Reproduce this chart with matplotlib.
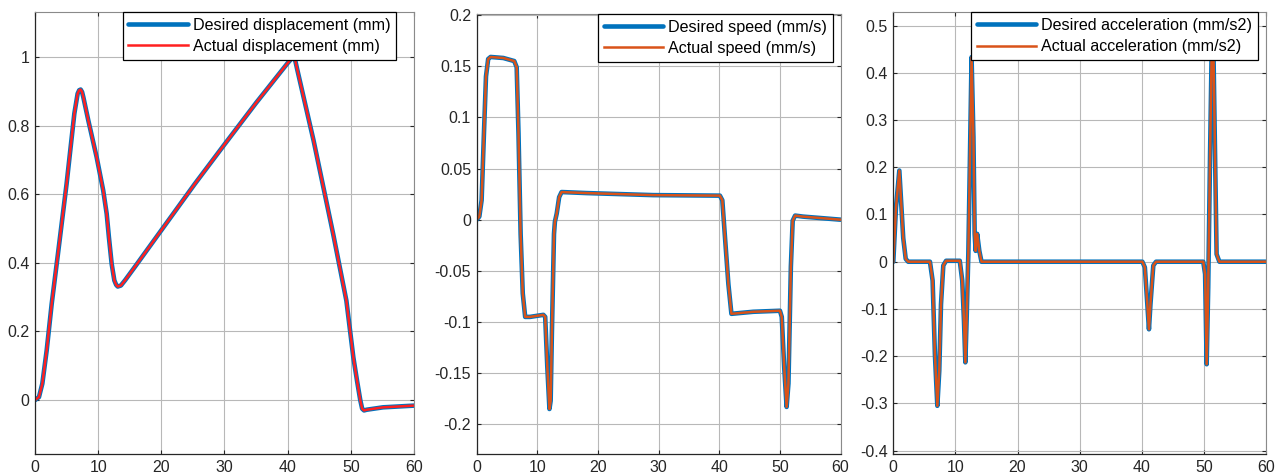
import numpy as np
import matplotlib
matplotlib.use("Agg")
import matplotlib.pyplot as plt

plt.rcParams["font.family"] = ["Liberation Sans", "DejaVu Sans"]
plt.rcParams["axes.unicode_minus"] = False

# displacement (mm) vs time
t_disp = [0, 0.63, 1.16, 1.85, 2.64, 3.7, 5.0, 6.23, 6.75, 7.0, 7.23, 7.45,
          7.65, 8.44, 9.76, 10.8, 11.35, 11.7, 12.14, 12.56, 12.85, 13.1,
          13.6, 14.25, 15.8, 20.0, 25.3, 30.0, 35.0, 40.0, 40.6, 40.9, 41.2,
          41.5, 44.1, 47.2, 49.3, 49.9, 50.4, 51.0, 51.5, 51.8, 52.1, 52.5,
          55.1, 60.0]
y_disp = [0, 0.009, 0.048, 0.145, 0.28, 0.436, 0.63, 0.835, 0.893, 0.903,
          0.905, 0.898, 0.883, 0.815, 0.708, 0.611, 0.543, 0.475, 0.397,
          0.349, 0.336, 0.331, 0.334, 0.349, 0.388, 0.495, 0.63, 0.745,
          0.866, 0.982, 0.995, 0.998, 0.99, 0.965, 0.757, 0.485, 0.29, 0.2,
          0.125, 0.055, 0.0, -0.025, -0.03, -0.028, -0.021, -0.016]

# speed (mm/s)
t_speed = [0, 0.44, 0.82, 1.2, 1.54, 1.9, 2.3, 4.4, 6.2, 6.6, 6.9, 7.25, 7.6,
           8.0, 8.8, 11.0, 11.3, 11.65, 12.0, 12.2, 12.4, 12.75, 12.9, 13.2,
           13.6, 14.0, 18.1, 29.1, 40.1, 40.5, 40.9, 41.5, 42.0, 45.6, 50.0,
           50.3, 50.7, 51.1, 51.4, 51.8, 52.1, 52.5, 53.8, 60.0]
y_speed = [0, 0.003, 0.019, 0.084, 0.14, 0.157, 0.159, 0.158, 0.155, 0.149,
           0.084, -0.014, -0.072, -0.095, -0.095, -0.093, -0.095, -0.144,
           -0.185, -0.177, -0.112, -0.014, -0.002, 0.006, 0.022, 0.027,
           0.026, 0.024, 0.0235, 0.019, -0.014, -0.063, -0.092, -0.090,
           -0.089, -0.095, -0.144, -0.183, -0.16, -0.046, -0.001, 0.004,
           0.003, 0.0]

# acceleration (mm/s2)
t_acc = [0, 0.43, 0.97, 1.6, 2.0, 2.4, 5.9, 6.33, 6.7, 7.09, 7.4, 7.68, 8.05,
         8.5, 10.7, 11.1, 11.38, 11.6, 11.8, 12.08, 12.35, 12.6, 12.9, 13.1,
         13.26, 13.5, 13.85, 14.2, 40.1, 40.5, 40.9, 41.16, 41.4, 41.86,
         42.3, 49.9, 50.2, 50.45, 50.7, 51.0, 51.25, 51.4, 51.55, 51.8,
         52.05, 52.5, 60.0]
y_acc = [0, 0.115, 0.193, 0.05, 0.006, 0.0, 0.0, -0.04, -0.196, -0.305,
         -0.231, -0.09, -0.008, 0.002, 0.002, -0.04, -0.125, -0.213, -0.125,
         0.016, 0.228, 0.433, 0.264, 0.059, 0.023, 0.059, 0.023, 0.0, 0.0,
         -0.012, -0.09, -0.143, -0.09, -0.008, 0.0, 0.0, -0.026, -0.217,
         -0.054, 0.228, 0.44, 0.46, 0.44, 0.228, 0.016, 0.0, 0.0]

x_ticks = [0, 10, 20, 30, 40, 50, 60]

panels = [
    dict(t=t_disp, y=y_disp, ylim=(-0.157, 1.131), yticks=np.arange(0, 1.01, 0.2),
         labels=("Desired displacement (mm)", "Actual displacement (mm)"),
         color2="#FF2020", pos=[0.0273, 0.0462, 0.2956, 0.9286], lx=0.9525),
    dict(t=t_speed, y=y_speed, ylim=(-0.229, 0.201), yticks=np.arange(-0.2, 0.201, 0.05),
         labels=("Desired speed (mm/s)", "Actual speed (mm/s)"),
         color2="#D95319", pos=[0.3718, 0.0462, 0.2839, 0.9244], lx=0.978),
    dict(t=t_acc, y=y_acc, ylim=(-0.407, 0.528), yticks=np.arange(-0.4, 0.501, 0.1),
         labels=("Desired acceleration (mm/s2)", "Actual acceleration (mm/s2)"),
         color2="#D95319", pos=[0.6968, 0.0462, 0.2907, 0.928], lx=0.9785),
]


def fmt(v, _):
    v = round(v, 3)
    if abs(v) < 1e-9:
        return "0"
    return "%g" % v


fig = plt.figure(figsize=(12.82, 4.76), dpi=100)

for p in panels:
    ax = fig.add_axes(p["pos"])
    ax.plot(p["t"], p["y"], color="#0072BD", lw=3.3, label=p["labels"][0],
            solid_capstyle="round", solid_joinstyle="round")
    ax.plot(p["t"], p["y"], color=p["color2"], lw=1.8, label=p["labels"][1],
            solid_joinstyle="round")
    ax.set_xlim(0, 60)
    ax.set_ylim(*p["ylim"])
    ax.set_xticks(x_ticks)
    ax.set_yticks(p["yticks"])
    ax.yaxis.set_major_formatter(plt.FuncFormatter(fmt))
    ax.grid(True, color="#b8b8b8", lw=0.8)
    ax.set_axisbelow(True)
    ax.tick_params(direction="in", length=3, labelsize=11.5, colors="#262626",
                   top=True, right=True, pad=4)
    for s in ["left", "bottom"]:
        ax.spines[s].set_color("#262626")
        ax.spines[s].set_linewidth(0.9)
    for s in ["top", "right"]:
        ax.spines[s].set_color("#8a8a8a")
        ax.spines[s].set_linewidth(0.8)
    leg = ax.legend(loc="upper right", bbox_to_anchor=(p["lx"], 1.0), borderaxespad=0,
                    fontsize=11.6, fancybox=False, framealpha=1, edgecolor="black",
                    handlelength=3.7, labelspacing=0.4, borderpad=0.35,
                    handletextpad=0.3)
    leg.get_frame().set_linewidth(0.9)

fig.savefig("out.png", dpi=100)
